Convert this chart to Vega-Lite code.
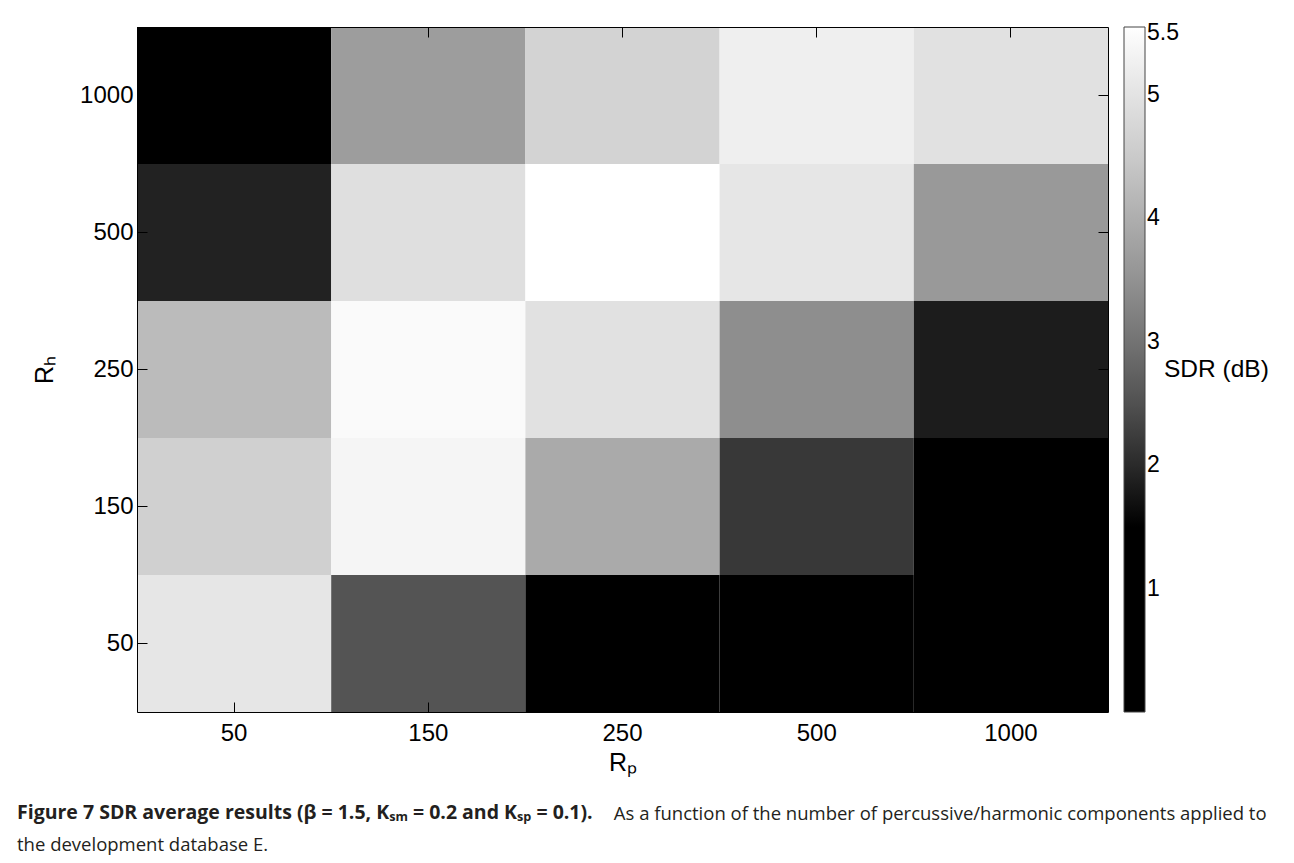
{
  "$schema": "https://vega.github.io/schema/vega-lite/v6.json",
  "width": 971,
  "height": 685,
  "autosize": {"type": "none"},
  "padding": {"left": 137, "top": 27, "right": 186, "bottom": 151},
  "background": "white",
  "data": {"values": [
    {"Rp": 50, "Rh": 1000, "SDR": 1.2},
    {"Rp": 150, "Rh": 1000, "SDR": 3.69},
    {"Rp": 250, "Rh": 1000, "SDR": 4.68},
    {"Rp": 500, "Rh": 1000, "SDR": 5.23},
    {"Rp": 1000, "Rh": 1000, "SDR": 4.95},
    {"Rp": 50, "Rh": 500, "SDR": 1.93},
    {"Rp": 150, "Rh": 500, "SDR": 4.91},
    {"Rp": 250, "Rh": 500, "SDR": 5.55},
    {"Rp": 500, "Rh": 500, "SDR": 5.05},
    {"Rp": 1000, "Rh": 500, "SDR": 3.62},
    {"Rp": 50, "Rh": 250, "SDR": 4.23},
    {"Rp": 150, "Rh": 250, "SDR": 5.45},
    {"Rp": 250, "Rh": 250, "SDR": 4.95},
    {"Rp": 500, "Rh": 250, "SDR": 3.44},
    {"Rp": 1000, "Rh": 250, "SDR": 1.88},
    {"Rp": 50, "Rh": 150, "SDR": 4.62},
    {"Rp": 150, "Rh": 150, "SDR": 5.35},
    {"Rp": 250, "Rh": 150, "SDR": 3.92},
    {"Rp": 500, "Rh": 150, "SDR": 2.18},
    {"Rp": 1000, "Rh": 150, "SDR": 1.3},
    {"Rp": 50, "Rh": 50, "SDR": 5.05},
    {"Rp": 150, "Rh": 50, "SDR": 2.54},
    {"Rp": 250, "Rh": 50, "SDR": 0.9},
    {"Rp": 500, "Rh": 50, "SDR": 0.6},
    {"Rp": 1000, "Rh": 50, "SDR": 0.1}
  ]},
  "title": {
    "text": "Figure 7 SDR average results (β = 1.5, Kₛₘ = 0.2 and Kₛₚ = 0.1).",
    "subtitle": [
      "\u200b\u2003\u2003\u2003\u2003\u2003\u2003\u2003\u2003\u2003\u2003\u2003\u2003\u2003\u2003\u2003\u2003\u2003\u2003\u2003\u2003\u2003\u2003\u2003\u2003\u2003\u2003\u2003\u2003\u2003\u2003\u2003\u2003\u00a0As a function of the number of percussive/harmonic components applied to",
      "the development database E."
    ],
    "orient": "bottom",
    "anchor": "start",
    "frame": "group",
    "dx": -120,
    "offset": 29,
    "font": "Open Sans",
    "fontSize": 19.5,
    "fontWeight": "bold",
    "color": "#231f20",
    "subtitleFont": "Open Sans",
    "subtitleFontSize": 18.5,
    "subtitleFontWeight": "normal",
    "subtitleColor": "#231f20",
    "subtitlePadding": -19,
    "subtitleLineHeight": 31
  },
  "layer": [
    {
      "mark": {"type": "rect"},
      "encoding": {
        "x": {
          "field": "Rp", "type": "ordinal", "title": "Rₚ",
          "scale": {"paddingInner": 0, "paddingOuter": 0},
          "axis": {"orient": "bottom", "zindex": 1, "tickSize": -10, "labelPadding": 19, "titlePadding": 5}
        },
        "y": {
          "field": "Rh", "type": "ordinal", "sort": "descending", "title": "Rₕ",
          "scale": {"paddingInner": 0, "paddingOuter": 0},
          "axis": {"orient": "left", "zindex": 1, "tickSize": -10, "labelPadding": 14, "titlePadding": 22}
        },
        "color": {
          "field": "SDR", "type": "quantitative", "title": "SDR (dB)",
          "scale": {
            "type": "linear",
            "domain": [0, 1.65, 2, 2.5, 3, 3.5, 4, 4.5, 5, 5.55],
            "range": ["#000000", "#000000", "#2a2a2a", "#515151", "#737373", "#929292", "#aeaeae", "#cacaca", "#e3e3e3", "#ffffff"],
            "interpolate": "rgb"
          },
          "legend": {
            "values": [1, 2, 3, 4, 5, 5.5],
            "format": "~g",
            "gradientLength": 685,
            "gradientThickness": 21,
            "titleOrient": "right",
            "titleAnchor": "middle",
            "titleBaseline": "middle",
            "titleAlign": "left",
            "titlePadding": -15,
            "encode": {
              "title": {"update": {"angle": {"value": 0}, "align": {"value": "left"}}}
            }
          }
        }
      }
    },
    {
      "mark": {"type": "rect", "fillOpacity": 0, "strokeOpacity": 0},
      "encoding": {
        "x": {
          "field": "Rp", "type": "ordinal",
          "axis": {"orient": "top", "zindex": 1, "tickSize": -10, "labels": false, "title": null}
        },
        "y": {
          "field": "Rh", "type": "ordinal", "sort": "descending",
          "axis": {"orient": "right", "zindex": 1, "tickSize": -10, "labels": false, "title": null}
        }
      }
    }
  ],
  "resolve": {"axis": {"x": "independent", "y": "independent"}},
  "config": {
    "font": "Liberation Sans",
    "view": {"stroke": null},
    "axis": {
      "domainColor": "#000000",
      "domainWidth": 1,
      "tickColor": "#000000",
      "tickWidth": 1,
      "grid": false,
      "labelAngle": 0,
      "labelFont": "Liberation Sans",
      "labelFontSize": 24,
      "labelColor": "#000000",
      "titleFont": "Liberation Sans",
      "titleFontSize": 25,
      "titleFontWeight": "normal",
      "titleColor": "#000000"
    },
    "legend": {
      "offset": 15,
      "padding": 0,
      "gradientStrokeColor": "#444444",
      "gradientStrokeWidth": 1,
      "labelFont": "Liberation Sans",
      "labelFontSize": 23,
      "labelColor": "#000000",
      "labelOffset": 4,
      "titleFont": "Liberation Sans",
      "titleFontSize": 24.5,
      "titleFontWeight": "normal",
      "titleColor": "#000000"
    }
  }
}
